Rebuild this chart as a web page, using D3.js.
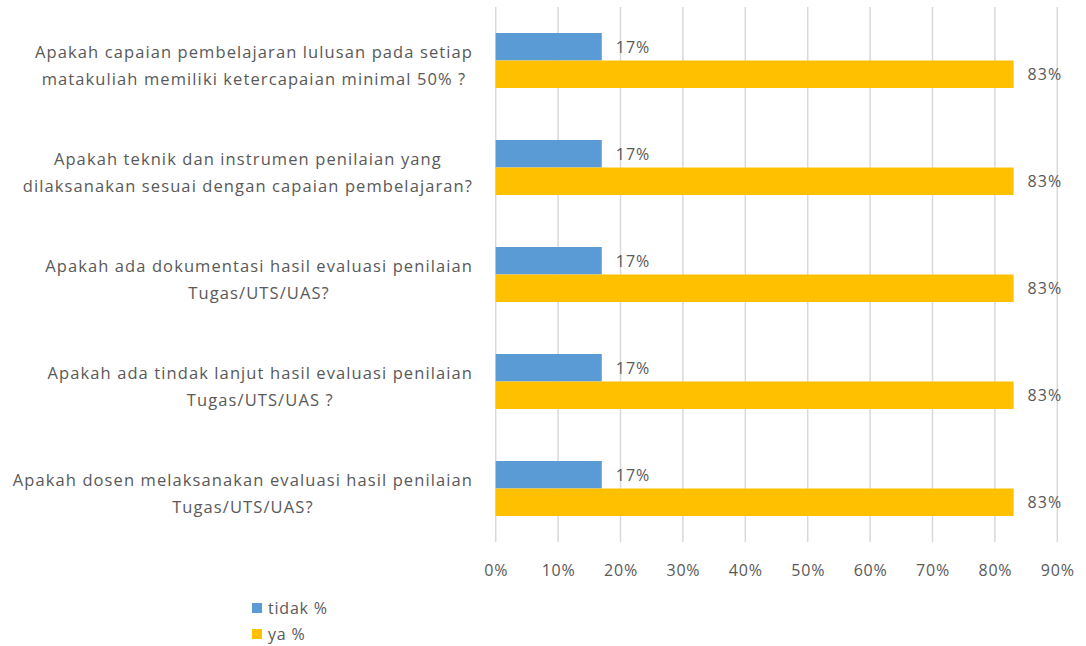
<!DOCTYPE html>
<html>
<head>
<meta charset="utf-8">
<script src="https://cdn.jsdelivr.net/npm/d3@7"></script>
<style>
  body { margin: 0; background: #fff; }
  text { font-family: "Open Sans", "Noto Sans", sans-serif; fill: #595959; }
</style>
</head>
<body>
<script>
// data
var questions = [
  ["Apakah capaian pembelajaran lulusan pada setiap", "matakuliah memiliki ketercapaian minimal 50% ?"],
  ["Apakah teknik dan instrumen penilaian yang", "dilaksanakan sesuai dengan capaian pembelajaran?"],
  ["Apakah ada dokumentasi hasil evaluasi penilaian", "Tugas/UTS/UAS?"],
  ["Apakah ada tindak lanjut hasil evaluasi penilaian", "Tugas/UTS/UAS ?"],
  ["Apakah dosen melaksanakan evaluasi hasil penilaian", "Tugas/UTS/UAS?"]
];
var tidak = [17, 17, 17, 17, 17];
var ya = [83, 83, 83, 83, 83];
var seriesNames = ["tidak %", "ya %"];
var seriesColors = ["#5b9bd5", "#ffc000"];
var xTicks = [0, 10, 20, 30, 40, 50, 60, 70, 80, 90];

var width = 1086, height = 646;
var margin = {left: 495.7, right: 30, top: 7, bottom: 104};

var svg = d3.select("body").append("svg").attr("width", width).attr("height", height);

var x = d3.scaleLinear()
    .domain([0, 90])
    .range([margin.left, margin.left + 9 * 62.4]);

var y = d3.scaleBand()
    .domain(d3.range(questions.length))
    .range([margin.top, height - margin.bottom])
    .paddingInner(0.486)
    .paddingOuter(0.243);

var inner = d3.scaleBand()
    .domain([0, 1])
    .range([0, y.bandwidth()]);

// gridlines
svg.append("g")
  .selectAll("line")
  .data(xTicks)
  .enter().append("line")
    .attr("x1", function(d) { return x(d); })
    .attr("x2", function(d) { return x(d); })
    .attr("y1", margin.top)
    .attr("y2", height - margin.bottom)
    .attr("stroke", "#d9d9d9")
    .attr("stroke-width", 1.5);

// x axis labels
var xAxis = d3.axisBottom(x).tickValues(xTicks).tickSize(0).tickPadding(0)
    .tickFormat(function(d) { return d + "%"; });
var ax = svg.append("g")
    .attr("transform", "translate(0," + 571 + ")")
    .call(xAxis);
ax.select(".domain").remove();
ax.selectAll("text").attr("font-size", 16).attr("dy", "0.32em")
    .style("letter-spacing", "0.8px")
    .style("font-family", "\"Open Sans\", sans-serif").attr("fill", "#595959");

// bars
var series = [tidak, ya];
series.forEach(function(vals, s) {
  var g = svg.append("g");
  g.selectAll("rect")
    .data(vals)
    .enter().append("rect")
      .attr("x", x(0))
      .attr("y", function(d, i) { return y(i) + inner(s); })
      .attr("width", function(d) { return x(d) - x(0); })
      .attr("height", inner.bandwidth())
      .attr("fill", seriesColors[s]);
  g.selectAll("text")
    .data(vals)
    .enter().append("text")
      .attr("x", function(d) { return x(d) + 14; })
      .attr("y", function(d, i) { return y(i) + inner(s) + inner.bandwidth() / 2; })
      .attr("dy", "0.36em")
      .attr("font-size", 16)
      .style("letter-spacing", "1px")
      .text(function(d) { return d + "%"; });
});

// category labels, centred block, right edge near the axis
var labelRight = 473;
var labels = svg.append("g");
questions.forEach(function(lines, i) {
  var t = labels.append("text").attr("font-size", 16.5).attr("text-anchor", "middle")
      .style("letter-spacing", "1.1px");
  var cy = y(i) + y.bandwidth() / 2;
  lines.forEach(function(line, k) {
    t.append("tspan")
      .attr("y", cy - 8 + k * 27)
      .attr("dy", "0.36em")
      .text(line);
  });
  var maxW = d3.max(t.selectAll("tspan").nodes(), function(n) { return n.getBBox().width; });
  t.selectAll("tspan").attr("x", labelRight - maxW / 2);
});

// legend
var legend = svg.append("g");
seriesNames.forEach(function(name, s) {
  var ly = 608 + s * 26;
  legend.append("rect")
    .attr("x", 252).attr("y", ly - 5).attr("width", 10).attr("height", 10)
    .attr("fill", seriesColors[s]);
  legend.append("text")
    .attr("x", 268).attr("y", ly).attr("dy", "0.36em")
    .attr("font-size", 16)
    .style("letter-spacing", "0.8px")
    .text(name);
});
</script>
</body>
</html>
